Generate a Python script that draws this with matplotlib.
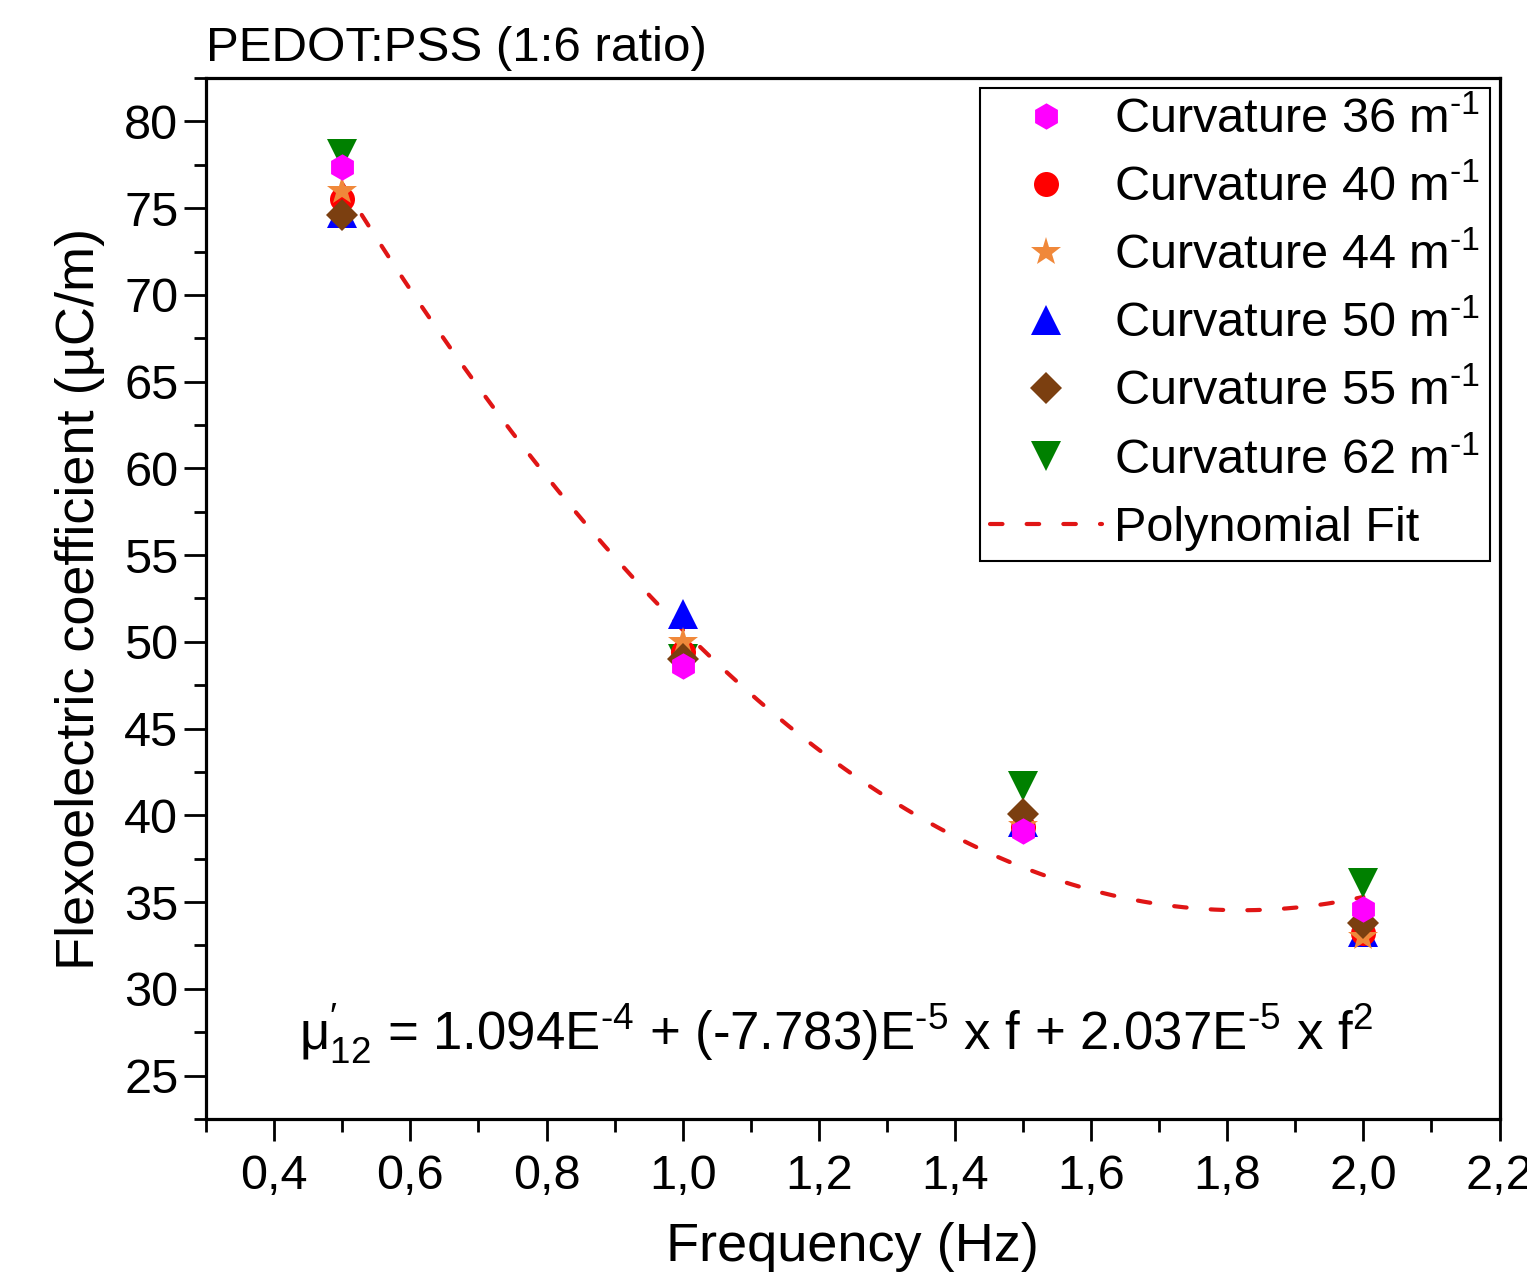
import numpy as np
import matplotlib
matplotlib.use("Agg")
import matplotlib.pyplot as plt
from matplotlib.ticker import MultipleLocator, FuncFormatter

plt.rcParams['font.family'] = ['Liberation Sans', 'DejaVu Sans']
plt.rcParams['mathtext.fontset'] = 'custom'
plt.rcParams['mathtext.rm'] = 'Liberation Sans'
plt.rcParams['mathtext.it'] = 'Liberation Sans'
plt.rcParams['mathtext.default'] = 'regular'

# frequency (Hz)
freq = [0.5, 1.0, 1.5, 2.0]

# flexoelectric coefficient (uC/m) per curvature
curv_36 = [77.4, 48.6, 39.1, 34.6]
curv_40 = [75.5, 49.4, 39.3, 33.2]
curv_44 = [76.0, 50.0, 39.4, 33.0]
curv_50 = [74.7, 51.6, 39.6, 33.3]
curv_55 = [74.6, 49.0, 40.1, 33.8]
curv_62 = [78.1, 49.0, 41.7, 36.1]

# polynomial fit as drawn (uC/m): a*f^2 + b*f + c
fit_coef = [24.0, -87.4, 114.1]
fit_range = [0.5, 2.0]

series = [
    ("Curvature 36 m$^{\\text{-1}}$", curv_36, "h", "#FF00FF", 6, 19),
    ("Curvature 40 m$^{\\text{-1}}$", curv_40, "o", "#FF0000", 3, 18),
    ("Curvature 44 m$^{\\text{-1}}$", curv_44, "*", "#F0883A", 4, 22),
    ("Curvature 50 m$^{\\text{-1}}$", curv_50, "^", "#0000FF", 2, 21),
    ("Curvature 55 m$^{\\text{-1}}$", curv_55, "D", "#7B3F10", 5, 16),
    ("Curvature 62 m$^{\\text{-1}}$", curv_62, "v", "#008000", 1, 21),
]

fig = plt.figure(figsize=(15.27, 12.75), dpi=100)
ax = fig.add_axes([0.135, 0.1224, 0.847, 0.8164])

for label, vals, mk, col, z, ms in series:
    ax.plot(freq, vals, linestyle="none", marker=mk, color=col, markersize=ms,
            markeredgewidth=0, label=label, zorder=3 + z)

fx = np.linspace(fit_range[0], fit_range[1], 200)
ax.plot(fx, np.polyval(fit_coef, fx), color="#E01515", linewidth=3, dashes=(3.0, 5.8),
        dash_capstyle="round", label="Polynomial Fit", zorder=3)

ax.set_xlim(0.3, 2.2)
ax.set_ylim(22.5, 82.5)
ax.xaxis.set_major_locator(MultipleLocator(0.2))
ax.xaxis.set_minor_locator(MultipleLocator(0.1))
ax.yaxis.set_major_locator(MultipleLocator(5))
ax.yaxis.set_minor_locator(MultipleLocator(2.5))
ax.xaxis.set_major_formatter(FuncFormatter(lambda v, p: f"{v:.1f}".replace(".", ",")))

ax.tick_params(which="major", direction="out", length=16, width=2, labelsize=35)
ax.tick_params(which="minor", direction="out", length=9, width=2)
ax.tick_params(axis="x", which="major", pad=9)
ax.tick_params(axis="y", which="major", pad=4)
ax.tick_params(top=False, right=False, which="both")
for sp in ax.spines.values():
    sp.set_linewidth(2.3)

ax.set_xlabel("Frequency (Hz)", fontsize=39, labelpad=17)
ax.set_ylabel("Flexoelectric coefficient (µC/m)", fontsize=39, labelpad=14)
ax.set_title("PEDOT:PSS (1:6 ratio)", fontsize=35.5, loc="left", pad=12)

ax.text(1.225, 27.4,
        r"$\mu^{\prime}_{12}$ = 1.094E$^{\text{-4}}$ + (-7.783)E$^{\text{-5}}$ x f"
        r" + 2.037E$^{\text{-5}}$ x f$^{2}$",
        fontsize=38, ha="center", va="center")

leg = ax.legend(loc="upper right", fontsize=35, frameon=True, fancybox=False,
                edgecolor="black", framealpha=1, handlelength=2.3, handletextpad=0.25,
                borderpad=0.2, labelspacing=0.47, borderaxespad=0.2, markerscale=1.0)
leg.get_frame().set_linewidth(1.5)

fig.savefig("out.png", dpi=100)
